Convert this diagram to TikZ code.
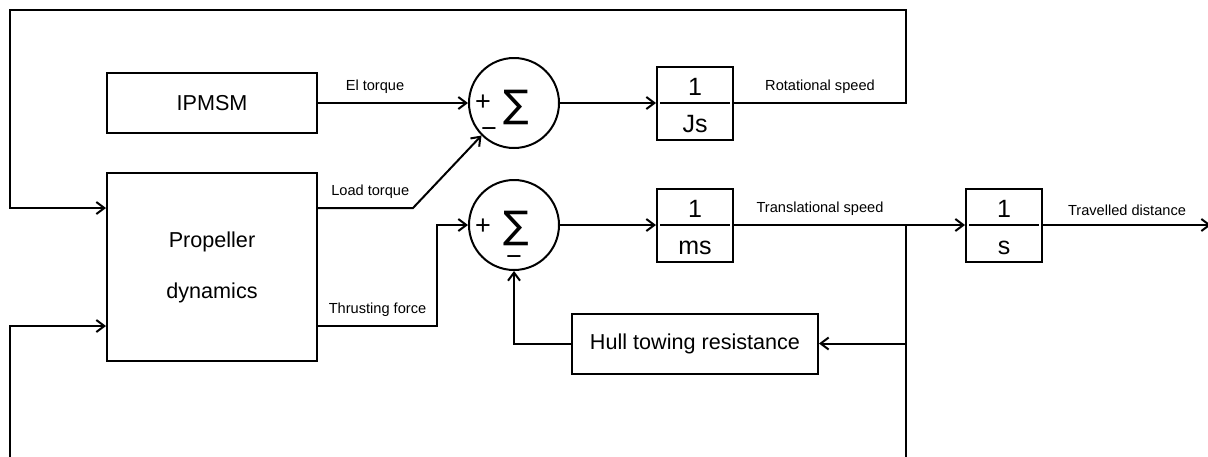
\documentclass[tikz,border=0pt]{standalone}
\usepackage{fontspec}
\setmainfont{Liberation Sans}
\newfontfamily\sumfont{DejaVu Sans}
\usetikzlibrary{positioning,arrows.meta,calc}

% glyph #3 centred at (#1,#2) inside a zero-size box
\newcommand{\putat}[3]{\makebox[0pt]{\kern#1\kern#1\raisebox{#2}{#3}}}
\newcommand{\fracbox}[2]{\putat{0pt}{3.75pt}{#1}\putat{0pt}{-14.75pt}{#2}}
\newcommand{\signfont}{\fontsize{13.5}{13.5}\selectfont}
\newcommand{\sigmafont}{\sumfont\fontsize{19}{19}\selectfont}

\begin{document}
\begin{tikzpicture}[line width=1pt, font=\fontsize{10.8}{13}\selectfont,
  blk/.style={draw, minimum width=105pt, minimum height=30pt, inner sep=0pt},
  tf/.style={draw, minimum width=38pt, minimum height=36.5pt, inner sep=0pt,
             text height=0pt, text depth=0pt, font=\fontsize{12.5}{15}\selectfont,
             path picture={\draw ([xshift=1.5pt]path picture bounding box.west)
               -- ([xshift=-1.5pt]path picture bounding box.east);}},
  sumn/.style={draw, circle, minimum size=45pt, inner sep=0pt,
               text height=0pt, text depth=0pt},
  arr/.style={-{Straight Barb[length=4pt,width=6pt]}},
  lbl/.style={above=1pt, font=\fontsize{7.3}{9}\selectfont, inner sep=3pt}]
\node[blk] (ipm) {IPMSM};
\node[blk, minimum height=94pt, below=19pt of ipm, align=center] (prop)
  {Propeller\\[12.5pt]dynamics};
\node[sumn, right=75pt of ipm] (sum1)
  {\putat{-15.5pt}{-3.8pt}{\signfont+}%
   \putat{1pt}{-7.2pt}{\sigmafont ∑}%
   \putat{-12.5pt}{-17.3pt}{\signfont −}};
\node[sumn, below=15pt of sum1] (sum2)
  {\putat{-15.5pt}{-4.7pt}{\signfont+}%
   \putat{1pt}{-6.5pt}{\sigmafont ∑}%
   \putat{0pt}{-20pt}{\signfont −}};
\node[tf, right=48pt of sum1] (js) {\fracbox{1}{Js}};
\node[tf, right=48pt of sum2] (ms) {\fracbox{1}{ms}};
\node[tf, right=115.5pt of ms] (one) {\fracbox{1}{s}};
\node[blk, minimum width=123pt, below=25pt of ms] (hull) {Hull towing resistance};

\coordinate[right=86pt of ms.east] (br);
\coordinate[right=84pt of one.east] (outr);
\coordinate[left=48pt of prop.west] (lft);
\coordinate (top) at ($(sum1)+(0,46.5pt)$);
\coordinate (bot) at ($(prop)+(0,-95.5pt)$);
\coordinate (pin1) at ($(prop.west)+(0,29.5pt)$);
\coordinate (pin2) at ($(prop.west)+(0,-29.5pt)$);
\coordinate (pout1) at ($(prop.east)+(0,29.5pt)$);
\coordinate (pout2) at ($(prop.east)+(0,-29.5pt)$);
\coordinate (lk) at ($(pout1)+(47.5pt,0)$);
\coordinate (tk) at ($(pout2)+(59.5pt,0)$);

\useasboundingbox ($(lft|-top)+(-5pt,5pt)$) rectangle ++(604pt,-228pt);

\draw[arr] (ipm) -- node[lbl, pos=0.38]{El torque} (sum1);
\draw[arr] (pout1) -- node[lbl, pos=0.55]{Load torque} (lk) -- (sum1.south west);
\draw[arr] (pout2) -- node[lbl]{Thrusting force} (tk) |- (sum2.west);
\draw[arr] (sum1) -- (js);
\draw[arr] (sum2) -- (ms);
\draw[arr] (js) -- node[lbl]{Rotational speed} (js.east -| br) -- (br |- top)
  -- (lft |- top) |- (pin1);
\draw[arr] (ms) -- node[lbl]{Translational speed} (br) -- (one);
\draw[arr] (one) -- node[lbl]{Travelled distance} (outr);
\draw (br) -- (br |- bot);
\draw[arr] (br |- hull) -- (hull);
\draw[arr] (hull) -| (sum2);
\draw[arr] (lft |- bot) |- (pin2);
\end{tikzpicture}
\end{document}
